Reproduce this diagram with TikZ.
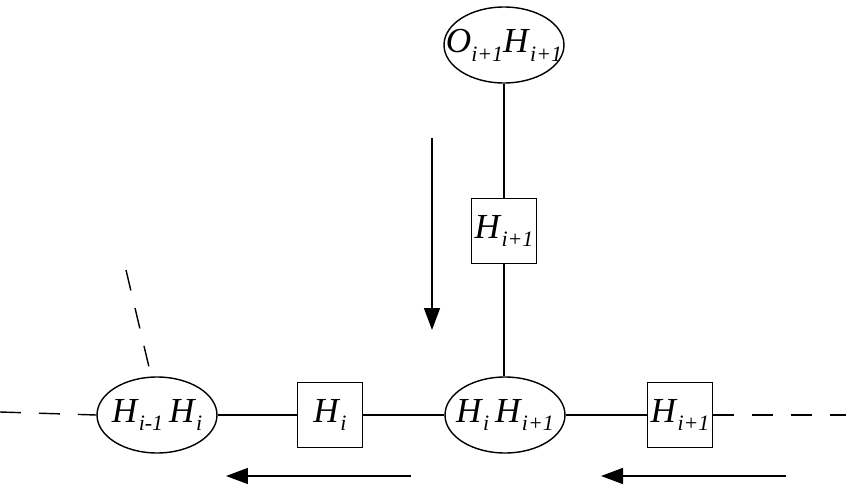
\documentclass[tikz,border=0pt]{standalone}
\usepackage{fontspec}
\setmainfont{Liberation Serif}
\usepackage{tikz}
\usetikzlibrary{arrows.meta,shapes.geometric}
\newcommand{\Hsub}[2]{\textit{#1}\raisebox{-5pt}{\fontsize{12.5}{12.5}\selectfont\textit{#2}}}

\begin{document}
\begin{tikzpicture}[
      x=0.02cm, y=-0.02cm,
      every node/.style={font=\fontsize{20}{23}\selectfont},
      oval/.style={ellipse, draw, line width=0.8pt, minimum width=2.4cm, minimum height=1.52cm, inner sep=0pt},
      site/.style={rectangle, draw, line width=0.8pt, minimum size=1.3cm, inner sep=0pt},
      bond/.style={line width=0.8pt},
      open/.style={line width=0.8pt, dash pattern=on 0.42cm off 0.36cm},
      flow/.style={-{Triangle[length=0.44cm, width=0.32cm]}, line width=0.8pt}
    ]
      \useasboundingbox (0,0) rectangle (846,497);

      % Top branch
      \node[oval, label=center:{\Hsub{O}{i+1}\Hsub{H}{i+1}}] (otop) at (504,45) {};
      \node[site] (hup) at (504,231) {\Hsub{H}{i+1}};

      % Chain
      \node[oval, label=center:{\Hsub{H}{i-1}\,\Hsub{H}{i}}] (hleft) at (157,415) {};
      \node[site] (hi) at (330,415) {\Hsub{H}{i}};
      \node[oval, label=center:{\Hsub{H}{i}\,\Hsub{H}{i+1}}] (hmid) at (505,415) {};
      \node[site] (hright) at (680,415) {\Hsub{H}{i+1}};

      % Open ends
      \coordinate (endL) at (0,412);
      \coordinate (endR) at (846,415);
      \coordinate (endA) at (126,270);
      \coordinate (endB) at (149,367);

      % Arrow ends
      \coordinate (downA) at (432,138);
      \coordinate (downB) at (432,330);
      \coordinate (leftA) at (411,476);
      \coordinate (leftB) at (226,476);
      \coordinate (rightA) at (786,476);
      \coordinate (rightB) at (601,476);

      % Bonds
      \draw[bond] (otop) -- (hup);
      \draw[bond] (hup) -- (hup |- hmid.north);
      \draw[bond] (hleft) -- (hi);
      \draw[bond] (hi) -- (hmid);
      \draw[bond] (hmid) -- (hright);

      \draw[open] (endL) -- (hleft.west);
      \draw[open] (hright.east) -- (endR);
      \draw[open] (endA) -- (endB);

      % Direction arrows
      \draw[flow] (downA) -- (downB);
      \draw[flow] (leftA) -- (leftB);
      \draw[flow] (rightA) -- (rightB);
    \end{tikzpicture}
\end{document}
